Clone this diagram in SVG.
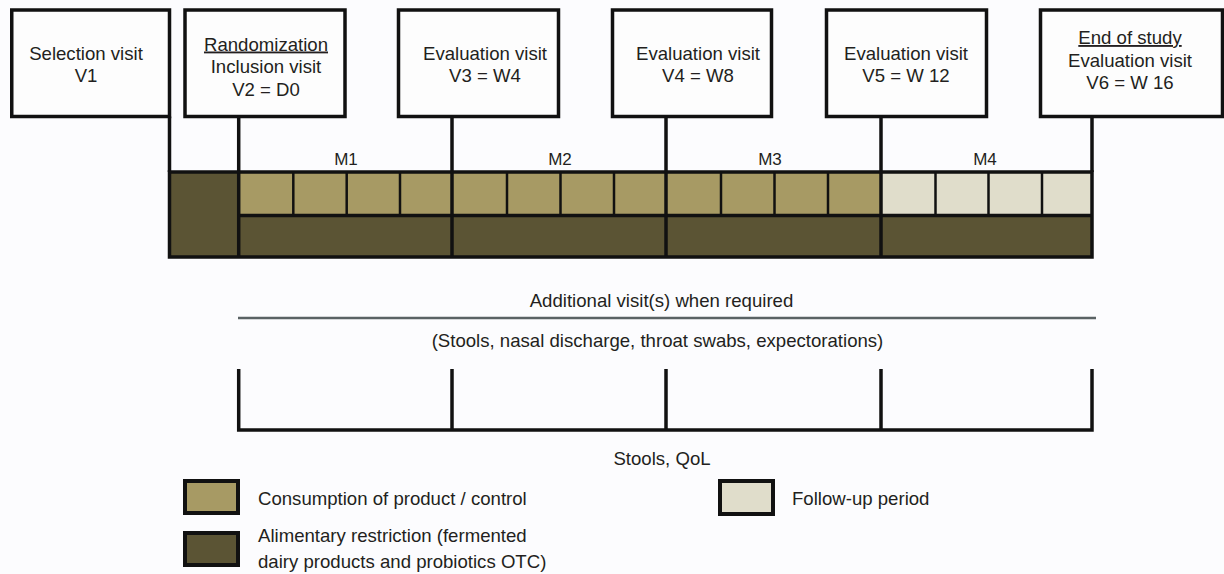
<svg xmlns="http://www.w3.org/2000/svg" width="1224" height="574" viewBox="0 0 1224 574">
  <defs>
    <style>
      .bg { fill: #FCFCFE; }
      .box { fill: #FDFDFD; stroke: #111111; stroke-width: 3.5; }
      .t { font-family: "Liberation Sans", Arial, sans-serif; font-size: 18.6px; fill: #231F20; text-anchor: middle; }
      .tl { font-family: "Liberation Sans", Arial, sans-serif; font-size: 18.6px; fill: #231F20; text-anchor: start; }
      .m { font-family: "Liberation Sans", Arial, sans-serif; font-size: 17px; fill: #231F20; text-anchor: middle; }
      .u { text-decoration: underline; }
      .thick { stroke: #111111; stroke-width: 3.5; fill: none; }
      .thin { stroke: #111111; stroke-width: 2.5; fill: none; }
      .gray { stroke: #5A6264; stroke-width: 2.5; fill: none; }
      .prod { fill: #A79A64; }
      .dark { fill: #5B5434; }
      .follow { fill: #E0DDCB; }
      .leg { stroke: #111111; stroke-width: 4; }
    </style>
  </defs>
  <rect class="bg" x="0" y="0" width="1224" height="574"/>

  <!-- Visit nodes -->
  <g id="node-v1">
    <rect class="box" x="11.75" y="10" width="157.75" height="106.5"/>
    <text class="t" x="86" y="60">Selection visit</text>
    <text class="t" x="86" y="82">V1</text>
  </g>
  <g id="node-v2">
    <rect class="box" x="185" y="10" width="160" height="106.5"/>
    <text class="t u" x="266" y="50.5">Randomization</text>
    <text class="t" x="266" y="73">Inclusion visit</text>
    <text class="t" x="266" y="96">V2 = D0</text>
  </g>
  <g id="node-v3">
    <rect class="box" x="398.5" y="10" width="160" height="106.5"/>
    <text class="t" x="485" y="59.5">Evaluation visit</text>
    <text class="t" x="485" y="81.5">V3 = W4</text>
  </g>
  <g id="node-v4">
    <rect class="box" x="612.5" y="10" width="159" height="106.5"/>
    <text class="t" x="698" y="59.5">Evaluation visit</text>
    <text class="t" x="698" y="81.5">V4 = W8</text>
  </g>
  <g id="node-v5">
    <rect class="box" x="826.5" y="10" width="160" height="106.5"/>
    <text class="t" x="906" y="59.5">Evaluation visit</text>
    <text class="t" x="906" y="81.5">V5 = W 12</text>
  </g>
  <g id="node-v6">
    <rect class="box" x="1040.5" y="10" width="182" height="106.5"/>
    <text class="t u" x="1130" y="44">End of study</text>
    <text class="t" x="1130" y="66.5">Evaluation visit</text>
    <text class="t" x="1130" y="89">V6 = W 16</text>
  </g>

  <!-- Connectors from visits to timeline -->
  <g id="connectors">
    <line class="thick" x1="169.5" y1="116.5" x2="169.5" y2="172"/>
    <line class="thick" x1="238.7" y1="116.5" x2="238.7" y2="172"/>
    <line class="thick" x1="452" y1="116.5" x2="452" y2="172"/>
    <line class="thick" x1="666" y1="116.5" x2="666" y2="172"/>
    <line class="thick" x1="881" y1="116.5" x2="881" y2="172"/>
    <line class="thick" x1="1092" y1="116.5" x2="1092" y2="172"/>
  </g>

  <!-- Timeline bar -->
  <g id="timeline">
    <rect class="dark" x="169.5" y="172" width="69.2" height="85"/>
    <rect class="prod" x="238.7" y="172" width="642.3" height="43.5"/>
    <rect class="follow" x="881" y="172" width="211" height="43.5"/>
    <rect class="dark" x="238.7" y="215.5" width="853.3" height="41.5"/>
    <g class="thin">
      <line x1="293.3" y1="172" x2="293.3" y2="215.5"/>
      <line x1="346.7" y1="172" x2="346.7" y2="215.5"/>
      <line x1="400" y1="172" x2="400" y2="215.5"/>
      <line x1="507" y1="172" x2="507" y2="215.5"/>
      <line x1="560.5" y1="172" x2="560.5" y2="215.5"/>
      <line x1="614" y1="172" x2="614" y2="215.5"/>
      <line x1="721" y1="172" x2="721" y2="215.5"/>
      <line x1="774.5" y1="172" x2="774.5" y2="215.5"/>
      <line x1="828" y1="172" x2="828" y2="215.5"/>
      <line x1="935.5" y1="172" x2="935.5" y2="215.5"/>
      <line x1="988.5" y1="172" x2="988.5" y2="215.5"/>
      <line x1="1042" y1="172" x2="1042" y2="215.5"/>
    </g>
    <g class="thick">
      <line x1="238.7" y1="215.5" x2="1092" y2="215.5"/>
      <line x1="238.7" y1="172" x2="238.7" y2="257"/>
      <line x1="452" y1="172" x2="452" y2="257"/>
      <line x1="666" y1="172" x2="666" y2="257"/>
      <line x1="881" y1="172" x2="881" y2="257"/>
      <rect x="169.5" y="172" width="922.5" height="85"/>
    </g>
    <text class="m" x="346" y="165">M1</text>
    <text class="m" x="560" y="165">M2</text>
    <text class="m" x="770" y="165">M3</text>
    <text class="m" x="985" y="165">M4</text>
  </g>

  <!-- Additional visits -->
  <g id="additional">
    <text class="t" x="661.5" y="307">Additional visit(s) when required</text>
    <line class="gray" x1="238" y1="318" x2="1096" y2="318"/>
    <text class="t" x="657.5" y="346.5">(Stools, nasal discharge, throat swabs, expectorations)</text>
  </g>

  <!-- Bottom bracket -->
  <g id="bracket">
    <path class="thick" d="M238.7,369 V430 H1092 V369 M452,369 V430 M666,369 V430 M881,369 V430"/>
    <text class="t" x="662" y="465">Stools, QoL</text>
  </g>

  <!-- Legend -->
  <g id="legend-product">
    <rect class="prod leg" x="185" y="481" width="53" height="32"/>
    <text class="tl" x="258" y="505">Consumption of product / control</text>
  </g>
  <g id="legend-restriction">
    <rect class="dark leg" x="185" y="533" width="53" height="32"/>
    <text class="tl" x="258" y="542">Alimentary restriction (fermented</text>
    <text class="tl" x="258" y="568">dairy products and probiotics OTC)</text>
  </g>
  <g id="legend-follow">
    <rect class="follow leg" x="720" y="481" width="53" height="33"/>
    <text class="tl" x="792" y="505">Follow-up period</text>
  </g>
</svg>
